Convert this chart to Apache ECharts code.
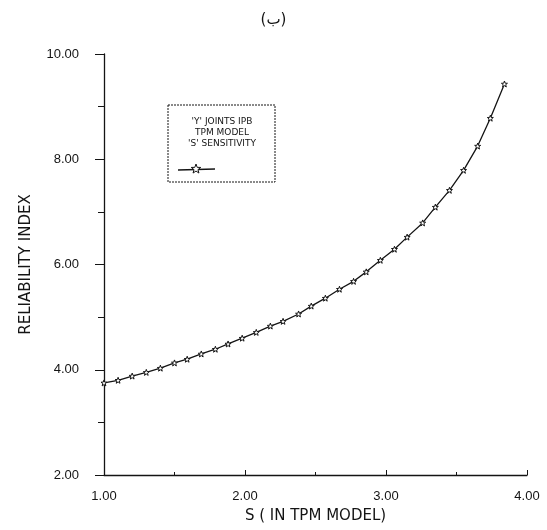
<!DOCTYPE html>
<html>
<head>
<meta charset="utf-8">
<script src="https://cdn.jsdelivr.net/npm/echarts@6/dist/echarts.min.js"></script>
<style>
  html, body { margin: 0; padding: 0; background: #fff; }
  #chart { width: 547px; height: 530px; }
</style>
</head>
<body>
<div id="chart"></div>
<script>
// S values (TPM model) and the resulting reliability index
const sValues = [1.00, 1.10, 1.20, 1.30, 1.40, 1.50, 1.59, 1.69, 1.79, 1.88,
                 1.98, 2.08, 2.18, 2.27, 2.38, 2.47, 2.57, 2.67, 2.77, 2.86,
                 2.96, 3.06, 3.15, 3.26, 3.35, 3.45, 3.55, 3.65, 3.74, 3.84];
const reliability = [3.75, 3.80, 3.88, 3.95, 4.03, 4.13, 4.20, 4.30, 4.39, 4.49,
                     4.60, 4.71, 4.83, 4.92, 5.06, 5.21, 5.36, 5.53, 5.68, 5.86,
                     6.08, 6.29, 6.52, 6.79, 7.09, 7.41, 7.79, 8.25, 8.78, 9.43];
const legendLines = ["'Y' JOINTS IPB", "TPM MODEL", "'S' SENSITIVITY"];
const titleText = '(ب)';
const xAxisName = 'S ( IN TPM MODEL)';
const yAxisName = 'RELIABILITY INDEX';

const ink = '#141414';
const starPts = [[0,-10],[2.4,-3.3],[9.5,-3.1],[3.9,1.3],[5.9,8.1],[0,4.1],[-5.9,8.1],[-3.9,1.3],[-9.5,-3.1],[-2.4,-3.3]];
const starPath = 'path://M' + starPts.map(p => p.join(',')).join(' L') + ' Z';
const font = '"Liberation Sans", Arial, sans-serif';
const wideFont = '"DejaVu Sans", "Noto Sans", sans-serif';

const chart = echarts.init(document.getElementById('chart'), null, { renderer: 'canvas' });
chart.setOption({
  backgroundColor: '#fff',
  animation: false,
  title: {
    text: titleText,
    left: 'center',
    top: 8,
    textStyle: { fontFamily: wideFont, fontSize: 15, fontWeight: 'normal', color: ink }
  },
  grid: { left: 104, top: 54, width: 423, height: 421, containLabel: false },
  xAxis: {
    type: 'value',
    min: 1, max: 4, interval: 1,
    name: xAxisName,
    nameLocation: 'middle',
    nameGap: 34,
    nameTextStyle: { fontFamily: wideFont, fontSize: 15, color: ink },
    axisLine: { lineStyle: { color: ink, width: 1.3 } },
    axisTick: { show: true, inside: true, length: 5, lineStyle: { color: ink } },
    minorTick: { show: true, splitNumber: 2, length: 3, lineStyle: { color: ink } },
    axisLabel: {
      margin: 15, fontFamily: font, fontSize: 13, color: ink,
      formatter: v => v.toFixed(2)
    },
    splitLine: { show: false }
  },
  yAxis: {
    type: 'value',
    min: 2, max: 10, interval: 2,
    name: yAxisName,
    nameLocation: 'middle',
    nameGap: 70,
    nameRotate: 90,
    nameTextStyle: { fontFamily: wideFont, fontSize: 15, color: ink },
    axisLine: { lineStyle: { color: ink, width: 1.3 } },
    axisTick: { show: true, length: 9, lineStyle: { color: ink } },
    minorTick: { show: true, splitNumber: 2, length: 6, lineStyle: { color: ink } },
    axisLabel: {
      margin: 25, fontFamily: font, fontSize: 13, color: ink,
      formatter: v => v.toFixed(2)
    },
    splitLine: { show: false }
  },
  series: [{
    type: 'line',
    data: sValues.map((s, i) => [s, reliability[i]]),
    symbol: starPath,
    symbolSize: 6,
    showAllSymbol: true,
    lineStyle: { color: ink, width: 1.3 },
    itemStyle: { color: '#fff', borderColor: ink, borderWidth: 1 }
  }],
  graphic: [
    {
      type: 'rect',
      x: 168, y: 105,
      shape: { x: 0, y: 0, width: 107, height: 77 },
      style: { fill: 'none', stroke: ink, lineWidth: 1, lineDash: [2, 1] }
    },
    ...legendLines.map((t, i) => ({
      type: 'text',
      x: 222, y: 122 + i * 11,
      style: {
        text: t, fill: ink, font: '9px ' + wideFont,
        textAlign: 'center', textVerticalAlign: 'middle'
      }
    })),
    {
      type: 'line',
      shape: { x1: 178, y1: 170, x2: 215, y2: 169 },
      style: { stroke: ink, lineWidth: 1.3 }
    },
    {
      type: 'polygon',
      x: 196, y: 169,
      shape: { points: starPts.map(p => [p[0] * 0.5, p[1] * 0.5]) },
      style: { fill: '#fff', stroke: ink, lineWidth: 1 }
    }
  ]
});
</script>
</body>
</html>
